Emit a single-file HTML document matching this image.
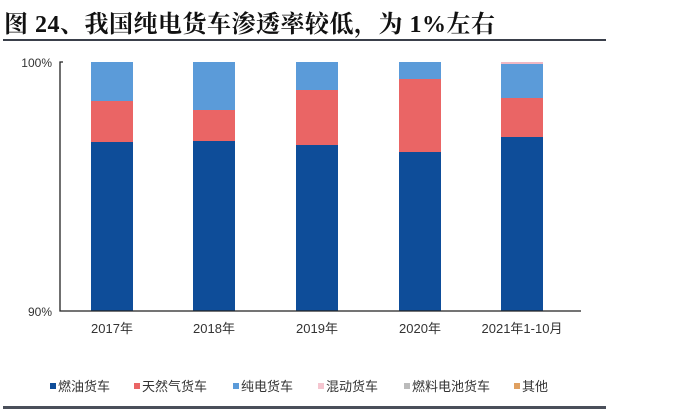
<!DOCTYPE html>
<html><head><meta charset="utf-8"><style>
body{margin:0;background:#fff;width:688px;height:415px;overflow:hidden;position:relative;font-family:"Liberation Sans","Noto Sans CJK SC",sans-serif}
.t{position:absolute;left:4px;top:4px;font:bold 24px "Liberation Serif","Noto Serif CJK SC",serif;color:#111;letter-spacing:0.5px}
</style></head><body>
<div class="t">图 24、我国纯电货车渗透率较低，为 1%左右</div>
<div style="position:absolute;left:3px;top:39px;width:603px;height:2px;background:#3a3f4a"></div>
<div style="position:absolute;left:3px;top:406px;width:603px;height:3px;background:#4a4f5a"></div>
<svg width="688" height="415" style="position:absolute;left:0;top:0">
<g font-size="12" fill="#333">
<text x="52" y="67" text-anchor="end">100%</text>
<text x="52" y="316" text-anchor="end">90%</text>
</g>
<g>
<rect x="91" y="62" width="42" height="39" fill="#5b9bd9"/><rect x="91" y="101" width="42" height="41" fill="#ea6565"/><rect x="91" y="142" width="42" height="169" fill="#0e4d99"/>
<rect x="193" y="62" width="42" height="48" fill="#5b9bd9"/><rect x="193" y="110" width="42" height="31" fill="#ea6565"/><rect x="193" y="141" width="42" height="170" fill="#0e4d99"/>
<rect x="296" y="62" width="42" height="28" fill="#5b9bd9"/><rect x="296" y="90" width="42" height="55" fill="#ea6565"/><rect x="296" y="145" width="42" height="166" fill="#0e4d99"/>
<rect x="399" y="62" width="42" height="17" fill="#5b9bd9"/><rect x="399" y="79" width="42" height="73" fill="#ea6565"/><rect x="399" y="152" width="42" height="159" fill="#0e4d99"/>
<rect x="501" y="62" width="42" height="2" fill="#f0b8c4"/><rect x="501" y="64" width="42" height="34" fill="#5b9bd9"/><rect x="501" y="98" width="42" height="39" fill="#ea6565"/><rect x="501" y="137" width="42" height="174" fill="#0e4d99"/>
</g>
<path d="M63 62H60V311H581" fill="none" stroke="#222" stroke-width="1.3"/>
<g font-size="13" fill="#333" text-anchor="middle">
<text x="112" y="333">2017年</text><text x="214" y="333">2018年</text><text x="317" y="333">2019年</text><text x="420" y="333">2020年</text><text x="522" y="333">2021年1-10月</text>
</g>
<g font-size="13" fill="#333">
<rect x="50" y="383" width="6" height="6" fill="#0e4d99"/><text x="58" y="391">燃油货车</text>
<rect x="134" y="383" width="6" height="6" fill="#ea6565"/><text x="142" y="391">天然气货车</text>
<rect x="233" y="383" width="6" height="6" fill="#5b9bd9"/><text x="241" y="391">纯电货车</text>
<rect x="318" y="383" width="6" height="6" fill="#f5c6d0"/><text x="326" y="391">混动货车</text>
<rect x="404" y="383" width="6" height="6" fill="#bbb"/><text x="412" y="391">燃料电池货车</text>
<rect x="514" y="383" width="6" height="6" fill="#e0a060"/><text x="522" y="391">其他</text>
</g>
</svg>
</body></html>
